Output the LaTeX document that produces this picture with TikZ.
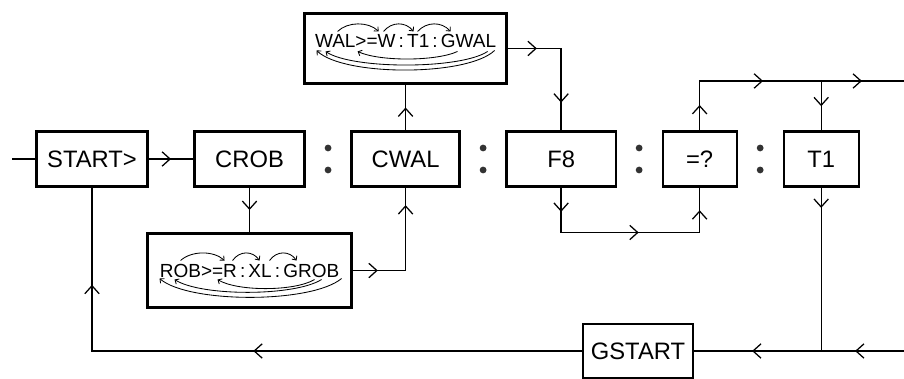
\documentclass[tikz,border=0pt]{standalone}
\usepackage{fontspec}
\setmainfont{Liberation Sans}
\usetikzlibrary{positioning, arrows.meta, calc, decorations.markings}

\begin{document}
\begin{tikzpicture}[
			x=0.025cm, y=-0.025cm,
			node distance=1.175cm and 1.175cm,
			box/.style={draw, rectangle, line width=1.6pt, outer sep=0pt, minimum height=1.375cm, align=center, font=\fontsize{16.9}{20}\selectfont},
			wordbox/.style={draw, rectangle, line width=1.6pt, outer sep=0pt, font=\fontsize{13.5}{16}\selectfont},
			flow/.style={line width=0.9pt},
			tip/.style={postaction={decorate, decoration={markings, mark=at position #1 with {\arrow{Straight Barb[length=2mm, width=3.6mm]}}}}},
			loop/.style={line width=0.6pt},
			looptip/.style={loop, -{Straight Barb[length=0.8mm, width=1.5mm]}}
			]
			
			\useasboundingbox (0,0) rectangle (904,379);
			
			% Nodes
			\node[box, minimum width=2.775cm] (start) at (92,159) {START>};
			\node[box, minimum width=2.75cm, right=of start] (crob) {CROB};
			\node[box, minimum width=2.7cm, right=of crob] (cwal) {CWAL};
			\node[box, minimum width=2.725cm, right=of cwal] (f8) {F8};
			\node[box, minimum width=1.85cm, right=of f8] (eq) {=?};
			\node[box, minimum width=1.875cm, right=of eq] (t1) {T1};
			
			\node[wordbox, minimum width=5.1cm, minimum height=1.85cm, below=of crob] (rob) {ROB>{}={}R\,:\,XL\,:\,GROB};
			\node[wordbox, minimum width=5.05cm, minimum height=1.75cm, text height=9.7pt, text depth=11.4pt, above=1.2cm of cwal] (wal) {WAL>{}={}W\,:\,T1\,:\,GWAL};
			
			\node[box, minimum width=2.75cm, minimum height=1.35cm] (gstart) at (638,351) {GSTART};
			
			\coordinate (in) at (12,159);
			\coordinate (topend) at (904,81);
			\coordinate (botend) at (904,351);
			\coordinate (tj) at (t1.north |- topend);
			\coordinate (bj) at (t1.south |- botend);
			
			% Colons
			\foreach \a/\b in {crob/cwal, cwal/f8, f8/eq, eq/t1}
				\fill[black!80] ($(\a.east)!0.5!(\b.west)$) ++(0,-11) circle[radius=3.4] ++(0,22) circle[radius=3.4];
			
			% Arrows
			\draw[flow] (in) -- (start.west);
			\draw[flow, tip=0.5] (start.east) -- (crob.west);
			\draw[flow, tip=0.5] (crob.south) -- (rob.north);
			\draw[flow, tip=0.19, tip=0.865] (rob.east) -| (cwal.south);
			\draw[flow, tip=0.5] (cwal.north) -- (wal.south);
			\draw[flow, tip=0.22, tip=0.79] (wal.east) -| (f8.north);
			\draw[flow, tip=0.11, tip=0.536, tip=0.897] (f8.south) -- ++(0,46) -| (eq.south);
			\draw[flow, tip=0.104, tip=0.447, tip=0.835] (eq.north) |- (topend);
			\draw[flow, tip=0.5] (tj) -- (t1.north);
			\draw[flow, tip=0.13] (t1.south) -- (bj);
			\draw[flow, tip=0.232, tip=0.72] (botend) -- (gstart.east);
			\draw[flow, tip=0.503, tip=0.85] (gstart.west) -| (start.south);
			
			% Links inside the word boxes
			\begin{scope}[shift={(wal.center)}]
				\draw[looptip] (-68,-17) .. controls (-58,-27) and (-37,-27) .. (-27,-17);
				\draw[looptip] (-22,-17) .. controls (-14,-27) and (0,-27) .. (8,-17);
				\draw[looptip] (12,-17) .. controls (21,-27) and (36,-27) .. (45,-17);
				\draw[looptip] (52,3) .. controls (30,13) and (-26,13) .. (-48,3);
				\draw[looptip] (82,3) .. controls (55,21) and (-53,21) .. (-80,3);
				\draw[looptip] (89,2) .. controls (62,28) and (-62,28) .. (-89,2);
			\end{scope}
			\begin{scope}[shift={(rob.center)}]
				\draw[looptip] (-69,-10) .. controls (-58,-20) and (-36,-20) .. (-25,-10);
				\draw[looptip] (-17,-10) .. controls (-10,-20) and (3,-20) .. (10,-10);
				\draw[looptip] (20,-10) .. controls (27,-20) and (40,-20) .. (47,-10);
				\draw[looptip] (65,9) .. controls (45,21) and (-12,21) .. (-32,9);
				\draw[looptip] (72,9) .. controls (45,26) and (-48,26) .. (-75,9);
				\draw[looptip] (92,8) .. controls (62,33) and (-60,33) .. (-90,8);
			\end{scope}
			
		\end{tikzpicture}
\end{document}
